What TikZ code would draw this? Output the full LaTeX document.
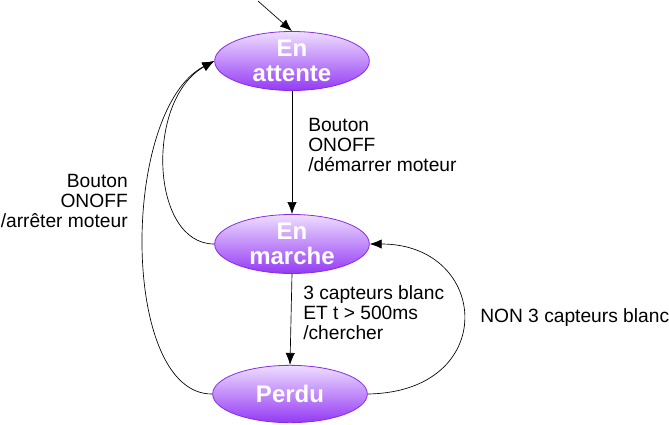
\documentclass[tikz,border=0pt]{standalone}
\usepackage{fontspec}
\setmainfont{Liberation Sans}
\usetikzlibrary{shapes.geometric,arrows.meta}
\definecolor{statetop}{RGB}{238,222,255}
\definecolor{statebot}{RGB}{148,58,244}
\definecolor{stateline}{RGB}{136,44,228}
\begin{document}
\begin{tikzpicture}[x=0.75pt,y=-0.75pt,
  state/.style={ellipse,draw=stateline,line width=0.6pt,top color=statetop,bottom color=statebot,
    minimum width=116pt,minimum height=43pt,inner sep=0pt,align=center,text=white,
    font=\fontsize{18}{18.75}\selectfont\bfseries},
  lbl/.style={align=left,inner sep=0pt,font=\fontsize{14.4}{15}\selectfont},
  trans/.style={-{Latex[length=9pt,width=7pt]},line width=0.5pt}]
\useasboundingbox (0,0) rectangle (669,425);
\node[state] (att) at (292,61) {En\\attente};
\node[state] (mar) at (292,244) {En\\marche};
\node[state] (per) at (290,394) {Perdu};
\coordinate (init) at (258,1);
% transitions
\draw[trans] (init) -- (att.north);
\draw[trans] (att.south) -- (mar.north);
\draw[trans] (mar.south) -- (per.north);
\draw[trans] (mar.west) .. controls (150,244) and (145,100) .. (att.west);
\draw[trans] (per.west) .. controls (120,395) and (120,110) .. (att.west);
\draw[trans] (per.east) .. controls (500,392) and (490,244) .. (mar.east);
% labels
\node[lbl,anchor=west] (demarrer) at (308,145) {Bouton\\ONOFF\\/démarrer moteur};
\node[lbl,anchor=east,align=right] (arreter) at (128,201) {Bouton\\ONOFF\\/arrêter moteur};
\node[lbl,anchor=west] (chercher) at (303,313) {3 capteurs blanc\\ET t > 500ms\\/chercher};
\node[lbl,anchor=west] (non) at (480,318) {NON 3 capteurs blanc};
\end{tikzpicture}
\end{document}
